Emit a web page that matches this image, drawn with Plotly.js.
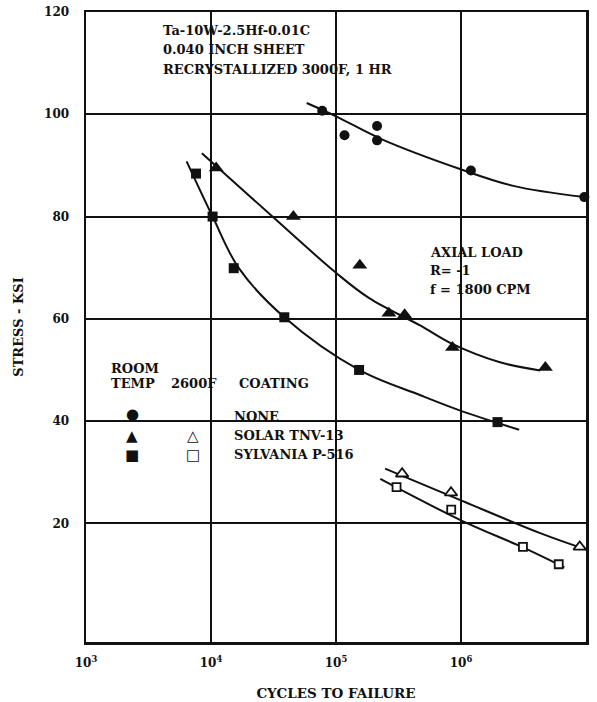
<!DOCTYPE html>
<html>
<head>
<meta charset="utf-8">
<script src="https://cdn.plot.ly/plotly-3.0.1.min.js"></script>
<style>
  html, body { margin: 0; padding: 0; background: #ffffff; }
  #chart { width: 597px; height: 702px; }
</style>
</head>
<body>
<div id="chart"></div>
<script>
// ---- Data ----
// Room temperature, no coating (filled circles)
const noneCycles = [7.76e4, 1.17e5, 2.13e5, 2.13e5, 1.2e6, 9.7e6];
const noneStress = [100.7, 95.9, 97.7, 94.9, 89.0, 83.8];
const noneFitCycles = [5.83e4, 1.0e5, 2.33e5, 9.8e5, 2.62e6, 9.7e6];
const noneFitStress = [102.2, 99.6, 95.1, 89.3, 86.0, 83.8];

// Room temperature, Solar TNV-13 (filled triangles)
const solarCycles = [1.1e4, 4.56e4, 1.55e5, 2.65e5, 3.54e5, 8.55e5, 4.73e6];
const solarStress = [89.5, 80.0, 70.5, 61.1, 60.8, 54.4, 50.5];
const solarFitCycles = [8.45e3, 3.1e4, 1.0e5, 1.83e5, 4.79e5, 8.5e5, 2.05e6, 4.3e6];
const solarFitStress = [92.4, 80.0, 69.0, 64.1, 58.6, 55.1, 51.5, 49.9];

// Room temperature, Sylvania P-516 (filled squares)
const sylvCycles = [7.59e3, 1.03e4, 1.52e4, 3.86e4, 1.53e5, 1.96e6];
const sylvStress = [88.4, 80.0, 69.9, 60.3, 50.0, 39.8];
const sylvFitCycles = [6.38e3, 1.03e4, 1.67e4, 3.86e4, 1.53e5, 4.79e5, 1.0e6, 2.92e6];
const sylvFitStress = [90.8, 80.0, 69.9, 60.3, 50.0, 45.0, 42.0, 38.3];

// 2600F, Solar TNV-13 (open triangles)
const solarHotCycles = [3.38e5, 8.32e5, 8.91e6];
const solarHotStress = [29.7, 26.0, 15.4];
const solarHotFitCycles = [2.47e5, 1.0e6, 4.3e6, 1.0e7];
const solarHotFitStress = [30.7, 24.5, 18.1, 14.9];

// 2600F, Sylvania P-516 (open squares)
const sylvHotCycles = [3.05e5, 8.35e5, 3.13e6, 6.05e6];
const sylvHotStress = [27.1, 22.7, 15.4, 12.0];
const sylvHotFitCycles = [2.26e5, 1.0e6, 3.13e6, 6.71e6];
const sylvHotFitStress = [28.7, 20.6, 15.3, 11.4];

// Axis ticks
const xTickVals = [1e3, 1e4, 1e5, 1e6, 1e7];
const xTickText = ['10<sup>3</sup>', '10<sup>4</sup>', '10<sup>5</sup>', '10<sup>6</sup>', '10<sup>7</sup>'];
const yTickVals = [20, 40, 60, 80, 100, 120];
const yTickText = ['20', '40', '60', '80', '100', '120'];

// ---- Chart ----
const FONT = 'DejaVu Serif, Liberation Serif, serif';
const INK = '#111111';

function fit(x, y) {
  return { x: x, y: y, type: 'scatter', mode: 'lines',
    line: { color: INK, width: 2, shape: 'spline', smoothing: 1 },
    hoverinfo: 'skip', showlegend: false };
}
function pts(x, y, symbol, size, open) {
  return { x: x, y: y, type: 'scatter', mode: 'markers', cliponaxis: false,
    marker: { symbol: symbol, size: size, color: open ? '#ffffff' : INK,
      line: { color: INK, width: open ? 1.8 : 0 } },
    showlegend: false };
}

const traces = [
  fit(noneFitCycles, noneFitStress),
  fit(solarFitCycles, solarFitStress),
  fit(sylvFitCycles, sylvFitStress),
  fit(solarHotFitCycles, solarHotFitStress),
  fit(sylvHotFitCycles, sylvHotFitStress),
  pts(noneCycles, noneStress, 'circle', 10, false),
  pts(solarCycles, solarStress, 'triangle-up', 13, false),
  pts(sylvCycles, sylvStress, 'square', 10, false),
  pts(solarHotCycles, solarHotStress, 'triangle-up', 11, true),
  pts(sylvHotCycles, sylvHotStress, 'square', 8, true)
];

function note(text, x, y) {
  return { text: text, xref: 'paper', yref: 'paper', x: x, y: y,
    xanchor: 'left', yanchor: 'middle', showarrow: false,
    font: { family: FONT, size: 13, color: INK, weight: 'bold' } };
}
function glyph(ch, x, y, size) {
  return { text: ch, xref: 'paper', yref: 'paper', x: x, y: y,
    xanchor: 'center', yanchor: 'middle', showarrow: false,
    font: { family: 'DejaVu Sans, sans-serif', size: size, color: INK, weight: 'bold' } };
}

const annotations = [
  note('Ta-10W-2.5Hf-0.01C', 0.150, 0.9703),
  note('0.040 INCH SHEET', 0.150, 0.9397),
  note('RECRYSTALLIZED 3000F, 1 HR', 0.150, 0.9095),
  note('AXIAL LOAD', 0.6847, 0.6190),
  note('R= -1', 0.6847, 0.5894),
  note('f = 1800 CPM', 0.6847, 0.5603),
  note('ROOM', 0.0466, 0.4344),
  note('TEMP', 0.0466, 0.4106),
  note('2600F', 0.1662, 0.4106),
  note('COATING', 0.3017, 0.4106),
  note('NONE', 0.2917, 0.3587),
  note('SOLAR TNV-13', 0.2917, 0.3270),
  note('SYLVANIA P-516', 0.2917, 0.2984),
  glyph('\u25CF', 0.0927, 0.3619, 15),
  glyph('\u25B2', 0.0927, 0.3270, 15),
  glyph('\u25A0', 0.0927, 0.2968, 15),
  glyph('\u25B3', 0.2148, 0.3270, 15),
  glyph('\u25A1', 0.2148, 0.2968, 15)
];

const layout = {
  width: 597, height: 702,
  margin: { l: 86, r: 11, t: 12, b: 60 },
  paper_bgcolor: '#ffffff', plot_bgcolor: '#ffffff',
  font: { family: FONT, size: 13, color: INK },
  showlegend: false,
  xaxis: {
    type: 'log', range: [3, 7],
    tickvals: xTickVals, ticktext: xTickText,
    ticks: '', ticklabelstandoff: 8,
    showgrid: true, gridcolor: INK, gridwidth: 2,
    showline: true, mirror: true, linecolor: INK, linewidth: 2.5,
    zeroline: false,
    tickfont: { family: FONT, size: 12, color: INK, weight: 'bold' },
    title: { text: 'CYCLES TO FAILURE', standoff: 20,
      font: { family: FONT, size: 13.5, color: INK, weight: 'bold' } }
  },
  yaxis: {
    range: [-3.2, 120],
    tickvals: yTickVals, ticktext: yTickText,
    ticks: '', ticklabelstandoff: 12,
    showgrid: true, gridcolor: INK, gridwidth: 2,
    showline: true, mirror: true, linecolor: INK, linewidth: 2.5,
    zeroline: false,
    tickfont: { family: FONT, size: 12, color: INK, weight: 'bold' },
    title: { text: 'STRESS - KSI', standoff: 18,
      font: { family: FONT, size: 13, color: INK, weight: 'bold' } }
  },
  annotations: annotations
};

Plotly.newPlot('chart', traces, layout, { staticPlot: true, displayModeBar: false });
</script>
</body>
</html>
